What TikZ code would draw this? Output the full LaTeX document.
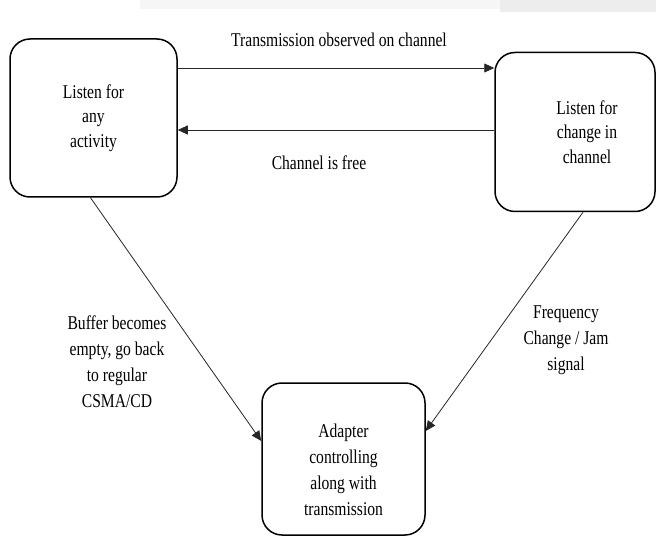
\documentclass[tikz,border=0pt]{standalone}
\usepackage{fontspec}
\setmainfont{Liberation Serif}[FakeStretch=0.8]
\usepackage{tikz}
\usetikzlibrary{positioning}
\usetikzlibrary{arrows.meta}

\tikzset{
	stateBox/.style={rectangle, draw=black, line width=1.5pt, rounded corners=20pt, align=center, font=\fontsize{19.5}{24.5}\selectfont},
	flowLine/.style={-{Triangle[length=10pt,width=9pt]}, line width=0.8pt, draw=black!85},
	flowLabel/.style={align=center, inner sep=0pt, font=\fontsize{19.5}{26}\selectfont}
}

\begin{document}
\begin{tikzpicture}[x=1pt,y=-1pt]
	\useasboundingbox (0,0) rectangle (656,537);
	\fill[gray!7]  (140,0) rectangle (500,9);
	\fill[gray!14] (500,0) rectangle (656,12);

	\node[stateBox, minimum width=167pt, minimum height=158pt](listenBox)  at (93.5,118){Listen for\\any\\activity};
	\node[stateBox, minimum width=160pt, minimum height=159pt](changeBox)  at (575,132){\hspace*{24pt}Listen for\\\hspace*{24pt}change in\\\hspace*{24pt}channel};
	\node[stateBox, minimum width=163pt, minimum height=152pt, font=\fontsize{19.5}{26}\selectfont](adapterBox) at (343.5,459){\rule{0pt}{36pt}Adapter\\controlling\\along with\\transmission};

	\draw[flowLine] ([yshift=50pt]listenBox.east) -- ([yshift=50pt]listenBox.east -| changeBox.west);
	\draw[flowLine] ([yshift=-12pt]listenBox.east -| changeBox.west) -- ([yshift=-12pt]listenBox.east);
	\draw[flowLine] ([xshift=-3pt]listenBox.south) -- ([yshift=18pt]adapterBox.west);
	\draw[flowLine] ([xshift=8pt]changeBox.south) -- ([yshift=28pt]adapterBox.east);

	\node[flowLabel](sendLabel)   at (339,40)  {Transmission observed on channel};
	\node[flowLabel](freeLabel)   at (319,163) {Channel is free};
	\node[flowLabel](bufferLabel) at (117,362) {Buffer becomes\\empty, go back\\to regular\\CSMA/CD};
	\node[flowLabel](jamLabel)    at (566,340) {Frequency\\Change / Jam\\signal};
\end{tikzpicture}
\end{document}
